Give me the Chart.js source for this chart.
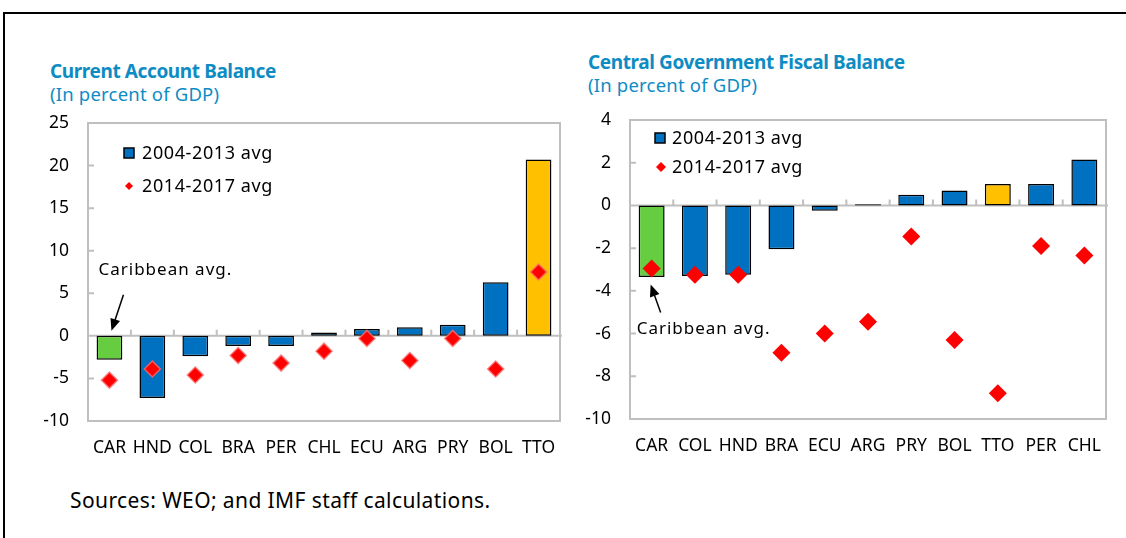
<!DOCTYPE html>
<html lang="en">
<head>
<meta charset="UTF-8">
<title>Current Account and Central Government Fiscal Balance</title>
<script src="https://cdn.jsdelivr.net/npm/chart.js@4.4.0/dist/chart.umd.min.js"></script>
<style>
  body { margin: 0; background: #fff; font-family: "Noto Sans", sans-serif; }
  #page { position: relative; width: 1126px; height: 538px; overflow: hidden; }
  .frame { position: absolute; left: 3px; top: 12px; width: 1200px; height: 600px; border-top: 2px solid #000; border-left: 2px solid #000; }
  .title { position: absolute; color: #0d8cc4; font-size: 19px; font-weight: bold; line-height: 22px; white-space: nowrap; letter-spacing: -0.4px; }
  .sub { position: absolute; color: #0d8cc4; font-size: 18.5px; line-height: 22px; white-space: nowrap; letter-spacing: 0.2px; }
  .source { position: absolute; left: 70px; top: 487px; font-size: 21px; line-height: 26px; color: #000; white-space: nowrap; letter-spacing: 0.4px; }
  canvas { position: absolute; top: 0; }
</style>
</head>
<body>
<div id="page">
  <div class="frame"></div>
  <div class="title" style="left:50px; top:60px;">Current Account Balance</div>
  <div class="sub" style="left:50px; top:83px;">(In percent of GDP)</div>
  <div class="title" style="left:588px; top:51px;">Central Government Fiscal Balance</div>
  <div class="sub" style="left:588px; top:74px;">(In percent of GDP)</div>
  <canvas id="caChart" width="575" height="470" style="left:0;"></canvas>
  <canvas id="fiscalChart" width="551" height="470" style="left:575px;"></canvas>
  <div class="source">Sources: WEO; and IMF staff calculations.</div>
</div>

<script>
// Current account balance
const caCategories = ['CAR', 'HND', 'COL', 'BRA', 'PER', 'CHL', 'ECU', 'ARG', 'PRY', 'BOL', 'TTO'];
const caAvg0413 = [-2.8, -7.3, -2.4, -1.2, -1.2, 0.4, 0.8, 1.0, 1.3, 6.3, 20.7];
const caAvg1417 = [-5.2, -3.9, -4.6, -2.3, -3.2, -1.8, -0.3, -2.9, -0.3, -3.9, 7.5];
const caAxis = { min: -10, max: 25, step: 5 };

// Central government fiscal balance
const fiscalCategories = ['CAR', 'COL', 'HND', 'BRA', 'ECU', 'ARG', 'PRY', 'BOL', 'TTO', 'PER', 'CHL'];
const fiscalAvg0413 = [-3.35, -3.3, -3.25, -2.05, -0.25, 0.05, 0.5, 0.7, 1.0, 1.0, 2.15];
const fiscalAvg1417 = [-2.95, -3.25, -3.25, -6.9, -6.0, -5.45, -1.45, -6.3, -8.8, -1.9, -2.35];
const fiscalAxis = { min: -10, max: 4, step: 2 };

const seriesLabels = ['2004-2013 avg', '2014-2017 avg'];

const BLUE = '#0070c0', GREEN = '#66cc40', GOLD = '#ffc000', RED = '#ff0000';

Chart.defaults.font.family = '"Noto Sans", sans-serif';
Chart.defaults.font.size = 17;
Chart.defaults.color = '#000';

function barColor(c) {
    if (c === 'CAR') return GREEN;
    if (c === 'TTO') return GOLD;
    return BLUE;
}

// plot frame, zero line, inner ticks, legend and the "Caribbean avg." note
const decor = {
    id: 'decor',
    beforeDatasetsDraw(chart, args, o) {
        const { ctx, chartArea: a, scales: { x, y } } = chart;
        const y0 = y.getPixelForValue(0);
        ctx.save();
        ctx.strokeStyle = '#bfbfbf';
        ctx.lineWidth = 2;
        ctx.strokeRect(a.left, a.top, a.right - a.left, a.bottom - a.top);
        ctx.beginPath();
        ctx.moveTo(a.left, y0);
        ctx.lineTo(a.right + 2, y0);
        y.ticks.forEach(t => {
            const py = y.getPixelForValue(t.value);
            ctx.moveTo(a.left, py);
            ctx.lineTo(a.left + 6, py);
        });
        for (let i = 1; i < x.ticks.length; i++) {
            const px = (x.getPixelForValue(i - 1) + x.getPixelForValue(i)) / 2;
            ctx.moveTo(px, y0);
            ctx.lineTo(px, y0 - 6);
        }
        ctx.stroke();
        ctx.restore();
    },
    afterDraw(chart, args, o) {
        const { ctx, chartArea: a, scales: { x, y } } = chart;
        const L = o.legend;
        ctx.save();
        // legend
        ctx.font = '18px "Noto Sans", sans-serif';
        ctx.letterSpacing = '0.6px';
        ctx.textBaseline = 'middle';
        ctx.fillStyle = BLUE;
        ctx.strokeStyle = '#000';
        ctx.lineWidth = 1.5;
        ctx.fillRect(a.left + L.x - 5, a.top + L.y1 - 5, 10, 10);
        ctx.strokeRect(a.left + L.x - 5, a.top + L.y1 - 5, 10, 10);
        const d = L.d;
        ctx.fillStyle = RED;
        ctx.beginPath();
        ctx.moveTo(a.left + L.x + L.dx, a.top + L.y2 - d);
        ctx.lineTo(a.left + L.x + L.dx + d, a.top + L.y2);
        ctx.lineTo(a.left + L.x + L.dx, a.top + L.y2 + d);
        ctx.lineTo(a.left + L.x + L.dx - d, a.top + L.y2);
        ctx.closePath();
        ctx.fill();
        ctx.fillStyle = '#000';
        ctx.fillText(chart.data.datasets[0].label, a.left + L.tx, a.top + L.y1 + 1);
        ctx.fillText(chart.data.datasets[1].label, a.left + L.tx, a.top + L.y2 + 1);

        // note with arrow, relative to the CAR category at zero
        const n = o.note;
        const bx = x.getPixelForValue(0), by = y.getPixelForValue(0);
        ctx.font = '17px "Noto Sans", sans-serif';
        ctx.letterSpacing = '1px';
        ctx.fillText('Caribbean avg.', bx + n.tx, by + n.ty);
        const x1 = bx + n.from[0], y1 = by + n.from[1];
        const x2 = bx + n.to[0], y2 = by + n.to[1];
        const ang = Math.atan2(y2 - y1, x2 - x1);
        ctx.beginPath();
        ctx.moveTo(x1, y1);
        ctx.lineTo(x2 - 8 * Math.cos(ang), y2 - 8 * Math.sin(ang));
        ctx.stroke();
        ctx.beginPath();
        ctx.moveTo(x2, y2);
        ctx.lineTo(x2 - 12 * Math.cos(ang) + 5 * Math.sin(ang), y2 - 12 * Math.sin(ang) - 5 * Math.cos(ang));
        ctx.lineTo(x2 - 12 * Math.cos(ang) - 5 * Math.sin(ang), y2 - 12 * Math.sin(ang) + 5 * Math.cos(ang));
        ctx.closePath();
        ctx.fill();
        ctx.restore();
    }
};

function makeChart(id, cats, past, recent, axis, layout, diamond, deco) {
    return new Chart(document.getElementById(id), {
        type: 'bar',
        data: {
            labels: cats,
            datasets: [{
                label: seriesLabels[0],
                data: past,
                backgroundColor: cats.map(barColor),
                borderColor: '#000',
                borderWidth: 1.5,
                borderSkipped: false,
                barPercentage: 0.6,
                categoryPercentage: 1,
                order: 2
            }, {
                type: 'line',
                label: seriesLabels[1],
                data: recent,
                showLine: false,
                pointStyle: 'rectRot',
                pointRadius: diamond.r,
                backgroundColor: RED,
                borderColor: diamond.border,
                borderWidth: diamond.bw,
                order: 1
            }]
        },
        options: {
            responsive: false,
            animation: false,
            layout: { padding: layout.padding },
            plugins: { legend: { display: false }, tooltip: { enabled: false }, decor: deco },
            scales: {
                x: {
                    grid: { display: false, drawTicks: false },
                    border: { display: false },
                    ticks: { autoSkip: false, maxRotation: 0, padding: 17, font: { size: 17.5 } },
                    afterFit: s => { s.height = 45; }
                },
                y: {
                    min: axis.min,
                    max: axis.max,
                    grid: { display: false, drawTicks: false },
                    border: { display: false },
                    ticks: { stepSize: axis.step, padding: 19, font: { size: 17.5 } },
                    afterFit: s => { s.width = layout.yWidth; }
                }
            }
        },
        plugins: [decor]
    });
}

makeChart('caChart', caCategories, caAvg0413, caAvg1417, caAxis,
    { padding: { left: 0, top: 123, right: 15, bottom: 4 }, yWidth: 88 },
    { r: 8, border: 'rgba(255,110,110,0.8)', bw: 1.5 },
    { legend: { x: 41, dx: 0, y1: 30, y2: 63, d: 4, tx: 54 },
      note: { tx: -11, ty: -66, from: [14, -41], to: [2, -5] } });

makeChart('fiscalChart', fiscalCategories, fiscalAvg0413, fiscalAvg1417, fiscalAxis,
    { padding: { left: 0, top: 120, right: 20, bottom: 6 }, yWidth: 55 },
    { r: 9, border: RED, bw: 0 },
    { legend: { x: 30, dx: 1, y1: 18, y2: 47, d: 5, tx: 42 },
      note: { tx: -15, ty: 124, from: [9, 107], to: [-1, 79] } });
</script>
</body>
</html>
